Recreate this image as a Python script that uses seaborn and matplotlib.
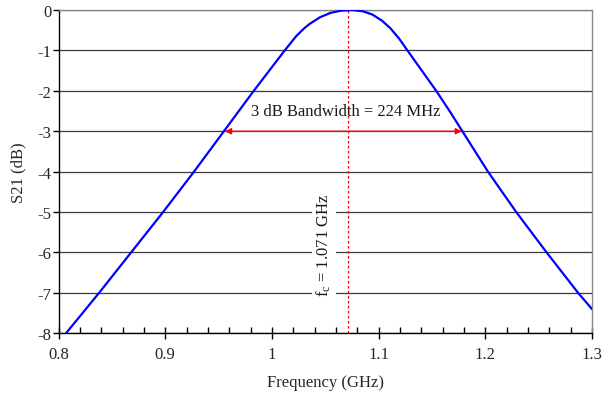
import matplotlib
matplotlib.use("Agg")
import matplotlib.pyplot as plt
import seaborn as sns
import pandas as pd
from matplotlib.ticker import MultipleLocator, FixedLocator

# ---- data ----
freq_ghz = [0.807, 0.838, 0.868, 0.898, 0.927, 0.955, 0.983, 0.9975, 1.012,
            1.023, 1.030, 1.035, 1.045, 1.055, 1.065, 1.075, 1.085, 1.094,
            1.103, 1.111, 1.119, 1.127, 1.1405, 1.154, 1.1665, 1.1785,
            1.2025, 1.229, 1.2575, 1.287, 1.300]
s21_db = [-8.0, -7.0, -6.0, -5.0, -4.0, -3.0, -2.0, -1.5, -1.0,
          -0.64, -0.46, -0.35, -0.18, -0.07, -0.015, 0.0, -0.03, -0.11,
          -0.26, -0.45, -0.70, -1.0, -1.5, -2.0, -2.5, -3.0,
          -4.0, -5.0, -6.0, -7.0, -7.40]
fc_ghz = 1.071
bw_left = 0.956
bw_right = 1.178
bw_level = -3.0
x_ticks = [0.8, 0.9, 1.0, 1.1, 1.2, 1.3]
x_tick_labels = ["0.8", "0.9", "1", "1.1", "1.2", "1.3"]
y_ticks = [0, -1, -2, -3, -4, -5, -6, -7, -8]
y_tick_labels = ["0", "-1", "-2", "-3", "-4", "-5", "-6", "-7", "-8"]
bw_text = "3 dB Bandwidth = 224 MHz"
fc_text = r"$\mathregular{f_c}$ = 1.071 GHz"

df = pd.DataFrame({"Frequency (GHz)": freq_ghz, "S21 (dB)": s21_db})

sns.set_theme(style="white")
plt.rcParams["font.family"] = ["Liberation Serif", "DejaVu Serif"]
plt.rcParams["axes.unicode_minus"] = False
plt.rcParams["mathtext.fontset"] = "custom"
plt.rcParams["mathtext.rm"] = "Liberation Serif"

FS = 12

fig = plt.figure(figsize=(6.02, 4.02), dpi=100)
ax = fig.add_axes([0.0972, 0.1684, 0.9834 - 0.0972, 0.9726 - 0.1684])

# horizontal gridlines
for yv in y_ticks:
    ax.axhline(yv, color="#3a3a3a", lw=0.9, zorder=1)

sns.lineplot(data=df, x="Frequency (GHz)", y="S21 (dB)", ax=ax,
             color="#0000FF", lw=1.6, zorder=4, sort=False)

# center frequency dashed line
ax.plot([fc_ghz, fc_ghz], [-8, 0], color="red", lw=0.9,
        linestyle=(0, (2, 2)), zorder=3)

# bandwidth arrow
ax.annotate("", xy=(bw_left, bw_level), xytext=(bw_right, bw_level),
            arrowprops=dict(arrowstyle="<|-|>", color="red", lw=1.0,
                            mutation_scale=9, shrinkA=0, shrinkB=0),
            zorder=5)
ax.text((bw_left + bw_right) / 2 + 0.002, -2.5, bw_text, ha="center",
        va="center", fontsize=FS, color="#1a1a1a", zorder=6)

ax.text(1.0487, -5.8, fc_text, rotation=90, ha="center", va="center",
        fontsize=FS, color="#1a1a1a", zorder=6,
        bbox=dict(facecolor="white", edgecolor="none", pad=2))

ax.set_xlim(0.8, 1.3)
ax.set_ylim(-8, 0)
ax.xaxis.set_major_locator(FixedLocator(x_ticks))
ax.set_xticklabels(x_tick_labels)
ax.xaxis.set_minor_locator(MultipleLocator(0.02))
ax.yaxis.set_major_locator(FixedLocator(y_ticks))
ax.set_yticklabels(y_tick_labels)

ax.tick_params(axis="x", which="major", direction="inout", length=8,
               width=1, color="black", labelsize=FS, pad=5, bottom=True)
ax.tick_params(axis="x", which="minor", direction="in", length=4,
               width=1, color="black", bottom=True)
ax.tick_params(axis="y", which="major", direction="out", length=4,
               width=1, color="black", labelsize=FS, pad=1, left=True)

ax.set_xlabel("Frequency (GHz)", fontsize=FS, labelpad=9)
ax.set_ylabel("S21 (dB)", fontsize=FS, labelpad=8)

for side in ["left", "bottom"]:
    ax.spines[side].set_color("black")
    ax.spines[side].set_linewidth(1.0)
for side in ["right", "top"]:
    ax.spines[side].set_color("#8a8a8a")
    ax.spines[side].set_linewidth(1.0)

fig.savefig("out.png", dpi=100)
